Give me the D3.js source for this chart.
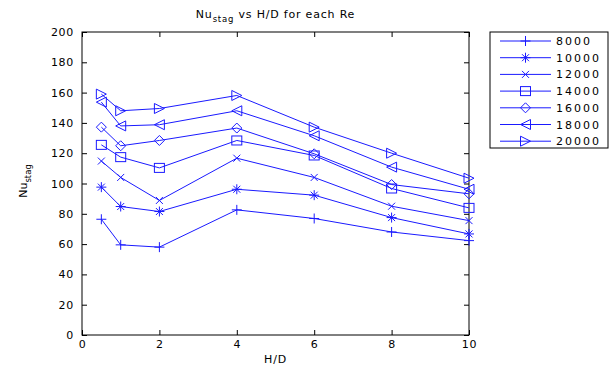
<!DOCTYPE html>
<html><head><meta charset="utf-8">
<script src="https://cdn.jsdelivr.net/npm/d3@7"></script>
<style>body{margin:0;background:#fff;} text{font-family:"DejaVu Sans",Verdana,sans-serif;}</style>
</head><body>
<svg id="c" width="610" height="369"></svg>
<script>
const hd = [0.5, 1, 2, 4, 6, 8, 10];
const reLabels = ["8000","10000","12000","14000","16000","18000","20000"];
const markers = ["plus","star","x","square","diamond","triL","triR"];
const nu8000  = [76.4, 59.5, 58.0, 82.6, 76.9, 68.0, 62.3];
const nu10000 = [97.6, 84.8, 81.5, 96.2, 92.3, 77.5, 66.7];
const nu12000 = [114.8, 104.0, 88.8, 116.7, 104.0, 85.0, 75.5];
const nu14000 = [125.5, 117.4, 110.3, 128.4, 118.5, 96.7, 83.9];
const nu16000 = [137.2, 124.9, 128.4, 136.6, 119.6, 99.3, 93.2];
const nu18000 = [153.7, 138.0, 138.8, 148.0, 131.5, 110.8, 96.2];
const nu20000 = [159.0, 148.0, 149.5, 158.1, 137.2, 120.0, 103.5];
const xTicks = [0,2,4,6,8,10];
const yTicks = [0,20,40,60,80,100,120,140,160,180,200];
const series = [nu8000,nu10000,nu12000,nu14000,nu16000,nu18000,nu20000];

const svg = d3.select("#c");
const L=82, R=469, T=32, B=335;
const x = d3.scaleLinear().domain([0,10]).range([L,R]);
const y = d3.scaleLinear().domain([0,200]).range([B,T]);
const col = "#1a1aff";
const FS = 11;

svg.append("rect").attr("x",L).attr("y",T).attr("width",R-L).attr("height",B-T)
  .attr("fill","none").attr("stroke","#000").attr("stroke-width",1);

const ax = (g)=>g.selectAll(".domain").remove();
svg.append("g").attr("transform",`translate(0,${B})`)
  .call(d3.axisBottom(x).tickValues(xTicks).tickSizeInner(-5).tickSizeOuter(0).tickPadding(5)).call(ax)
  .call(g=>g.selectAll("text").attr("font-size",FS).attr("fill","#000").attr("font-family","DejaVu Sans").attr("letter-spacing",0.7));
svg.append("g").attr("transform",`translate(0,${T})`)
  .call(d3.axisTop(x).tickValues(xTicks).tickSizeInner(-5).tickSizeOuter(0).tickFormat("")).call(ax);
svg.append("g").attr("transform",`translate(${L},0)`)
  .call(d3.axisLeft(y).tickValues(yTicks).tickSizeInner(-5).tickSizeOuter(0).tickPadding(8)).call(ax)
  .call(g=>g.selectAll("text").attr("font-size",FS).attr("fill","#000").attr("font-family","DejaVu Sans").attr("letter-spacing",0.7));
svg.append("g").attr("transform",`translate(${R},0)`)
  .call(d3.axisRight(y).tickValues(yTicks).tickSizeInner(-5).tickSizeOuter(0).tickFormat("")).call(ax);
svg.selectAll(".tick line").attr("stroke","#000");

const t = svg.append("text").attr("x",(L+R)/2).attr("y",18).attr("text-anchor","middle").attr("font-size",FS).attr("letter-spacing",0.8);
t.append("tspan").text("Nu");
t.append("tspan").attr("font-size",8.5).attr("dy",4).text("stag");
t.append("tspan").attr("dy",-4).text(" vs H/D for each Re");
svg.append("text").attr("x",(L+R)/2).attr("y",363).attr("text-anchor","middle").attr("font-size",FS).attr("letter-spacing",0.8).text("H/D");
const yl = svg.append("text").attr("transform",`translate(27,181) rotate(-90)`).attr("text-anchor","middle").attr("font-size",FS);
yl.append("tspan").text("Nu");
yl.append("tspan").attr("font-size",8.5).attr("dy",4).text("stag");

function drawMarker(g, type, cx, cy){
  const s=5;
  if(type==="plus"){
    g.append("path").attr("d",`M${cx-s},${cy}H${cx+s}M${cx},${cy-s}V${cy+s}`);
  } else if(type==="star"){
    g.append("path").attr("d",`M${cx-s},${cy}H${cx+s}M${cx},${cy-s}V${cy+s}M${cx-3.5},${cy-3.5}L${cx+3.5},${cy+3.5}M${cx-3.5},${cy+3.5}L${cx+3.5},${cy-3.5}`);
  } else if(type==="x"){
    g.append("path").attr("d",`M${cx-3.5},${cy-3.5}L${cx+3.5},${cy+3.5}M${cx-3.5},${cy+3.5}L${cx+3.5},${cy-3.5}`);
  } else if(type==="square"){
    g.append("rect").attr("x",cx-5).attr("y",cy-4.5).attr("width",10).attr("height",9);
  } else if(type==="diamond"){
    g.append("path").attr("d",`M${cx},${cy-5}L${cx+5},${cy}L${cx},${cy+5}L${cx-5},${cy}Z`);
  } else if(type==="triL"){
    g.append("path").attr("d",`M${cx-5},${cy}L${cx+5},${cy-5}L${cx+5},${cy+5}Z`);
  } else if(type==="triR"){
    g.append("path").attr("d",`M${cx+5},${cy}L${cx-5},${cy-5}L${cx-5},${cy+5}Z`);
  }
}

const line = d3.line().x((d,i)=>x(hd[i])).y(d=>y(d));
series.forEach((s,k)=>{
  const g = svg.append("g").attr("fill","none").attr("stroke",col).attr("stroke-width",1);
  g.append("path").attr("d",line(s));
  s.forEach((v,i)=>drawMarker(g, markers[k], x(hd[i]), y(v)));
});

const lg = svg.append("g");
lg.append("rect").attr("x",490).attr("y",32).attr("width",118).attr("height",116)
  .attr("fill","#fff").attr("stroke","#000").attr("stroke-width",1);
reLabels.forEach((lab,k)=>{
  const yy = 41 + k*16.7;
  const g = lg.append("g").attr("fill","none").attr("stroke",col).attr("stroke-width",1);
  g.append("line").attr("x1",500).attr("x2",551).attr("y1",yy).attr("y2",yy);
  drawMarker(g, markers[k], 525.5, yy);
  lg.append("text").attr("x",556).attr("y",yy+4).attr("font-size",FS).attr("letter-spacing",2).text(lab);
});
</script>
</body></html>
